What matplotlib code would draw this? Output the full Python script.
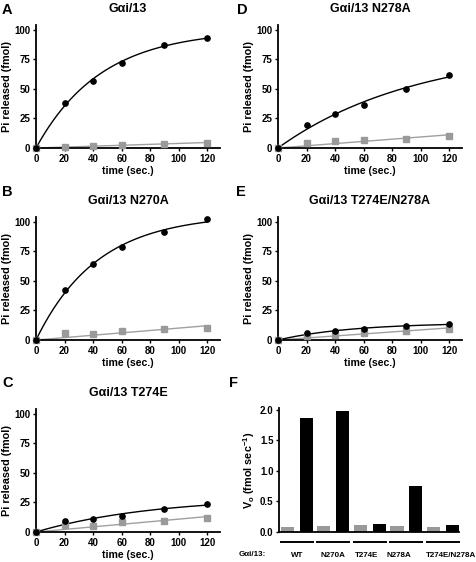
import numpy as np
import matplotlib
matplotlib.use("Agg")
import matplotlib.pyplot as plt

plt.rcParams['font.family'] = ['Liberation Sans', 'DejaVu Sans']
plt.rcParams['font.weight'] = 'bold'
plt.rcParams['mathtext.fontset'] = 'custom'
plt.rcParams['mathtext.rm'] = 'Liberation Sans:bold'
plt.rcParams['mathtext.bf'] = 'Liberation Sans:bold'
plt.rcParams['mathtext.default'] = 'bf'

# time points (sec.)
t = [0, 20, 40, 60, 90, 120]

# Pi released (fmol), black = with receptor, gray = basal
wt_black = [0, 38, 57, 72, 87, 93]
wt_gray = [0, 1, 1.5, 2.5, 3.5, 4.5]
n270a_black = [0, 42, 64, 79, 91, 102]
n270a_gray = [0, 5.5, 5, 7.5, 9, 10.5]
t274e_black = [0, 9.5, 11, 13.5, 19.5, 23.5]
t274e_gray = [0, 5.5, 5, 8.5, 9.5, 11.5]
n278a_black = [0, 19.5, 29, 36.5, 50, 61.5]
n278a_gray = [0, 4.5, 5.5, 6.5, 8, 10]
dbl_black = [0, 5.5, 8, 9, 12, 13.5]
dbl_gray = [0, 3, 4, 6, 7.5, 9.5]

# initial velocities (fmol/sec)
mutants = ['WT', 'N270A', 'T274E', 'N278A', 'T274E/N278A']
vo_gray = [0.085, 0.105, 0.11, 0.095, 0.085]
vo_black = [1.87, 1.98, 0.125, 0.75, 0.11]

W, H = 477, 562


def fit_exp(x, y):
    # one-phase association Y = ymax*(1-exp(-k*t)), grid search on k
    x = np.asarray(x, float)
    y = np.asarray(y, float)
    best = None
    for k in np.logspace(-5, -0.5, 3000):
        f = 1 - np.exp(-k * x)
        ymax = (f @ y) / (f @ f)
        err = np.sum((ymax * f - y) ** 2)
        if best is None or err < best[0]:
            best = (err, k, ymax)
    return best[1], best[2]


def fit_line(x, y):
    # straight line through origin
    x = np.asarray(x, float)
    y = np.asarray(y, float)
    return (x @ y) / (x @ x)


def style(ax):
    for s in ['top', 'right']:
        ax.spines[s].set_visible(False)
    for s in ['left', 'bottom']:
        ax.spines[s].set_linewidth(1.3)
    ax.tick_params(labelsize=7, length=2.5, width=1, pad=1.5)
    for lab in ax.get_xticklabels() + ax.get_yticklabels():
        lab.set_fontweight('bold')


def kinetics(ax, black, gray, title):
    tt = np.linspace(0, 120, 200)
    slope = fit_line(t, gray)
    ax.plot(tt, slope * tt, color='#a0a0a0', lw=1.0, clip_on=False, zorder=2)
    ax.plot(t, gray, ls='none', marker='s', color='#9a9a9a', ms=3.8,
            clip_on=False, zorder=3)
    k, ymax = fit_exp(t, black)
    ax.plot(tt, ymax * (1 - np.exp(-k * tt)), color='black', lw=1.0,
            clip_on=False, zorder=2)
    ax.plot(t, black, ls='none', marker='o', color='black', ms=3.8,
            clip_on=False, zorder=4)
    ax.set_xlim(0, 129)
    ax.set_ylim(0, 104)
    ax.set_xticks([0, 20, 40, 60, 80, 100, 120])
    ax.set_yticks([0, 25, 50, 75, 100])
    ax.set_xlabel('time (sec.)', fontsize=7.6, fontweight='bold', labelpad=2)
    ax.set_ylabel('Pi released (fmol)', fontsize=7.8, fontweight='bold',
                  labelpad=2)
    ax.set_title(title, fontsize=9, fontweight='bold', pad=9)
    style(ax)


fig = plt.figure(figsize=(4.77, 5.62), dpi=100)


def add_axes(left, right, bottom, top):
    return fig.add_axes([left / W, 1 - bottom / H, (right - left) / W,
                         (bottom - top) / H])


axA = add_axes(36, 220, 148, 25)
axB = add_axes(36, 220, 340, 217)
axC = add_axes(36, 220, 532, 409)
axD = add_axes(278, 462, 148, 25)
axE = add_axes(278, 462, 340, 217)
axF = add_axes(279, 459, 532, 408)

kinetics(axA, wt_black, wt_gray, 'G\u03b1i/13')
kinetics(axB, n270a_black, n270a_gray, 'G\u03b1i/13 N270A')
kinetics(axC, t274e_black, t274e_gray, 'G\u03b1i/13 T274E')
kinetics(axD, n278a_black, n278a_gray, 'G\u03b1i/13 N278A')
kinetics(axE, dbl_black, dbl_gray, 'G\u03b1i/13 T274E/N278A')

# panel letters
for letter, px, py in [('A', 2, 10), ('B', 2, 192), ('C', 2, 383),
                       ('D', 237, 10), ('E', 236, 192), ('F', 229, 383)]:
    fig.text(px / W, 1 - py / H, letter, fontsize=10.5, fontweight='bold',
             ha='left', va='center')

# panel F bars
x = np.arange(len(mutants))
axF.bar(x - 0.26, vo_gray, width=0.36, color='#999999')
axF.bar(x + 0.26, vo_black, width=0.36, color='black')
axF.set_xlim(-0.49, 4.44)
axF.set_ylim(0, 2.03)
axF.set_yticks([0.0, 0.5, 1.0, 1.5, 2.0])
axF.set_yticklabels(['0.0', '0.5', '1.0', '1.5', '2.0'])
axF.set_xticks([])
axF.set_ylabel('V$_o$ (fmol sec$^{-1}$)', fontsize=7.8, fontweight='bold',
               labelpad=2)
style(axF)
trans = axF.get_xaxis_transform()
label_shift = [0, 0, -0.1, -0.2, 0.22]
for i, name in enumerate(mutants):
    axF.plot([i - 0.44, i + 0.44], [-0.08, -0.08], color='black', lw=1.4,
             transform=trans, clip_on=False)
    axF.text(i + label_shift[i], -0.19, name, transform=trans, fontsize=5.8,
             fontweight='bold', ha='center', va='center')
fig.text(239 / W, 1 - 555 / H, 'G\u03b1i/13:', fontsize=5.8,
         fontweight='bold', ha='left', va='center')

fig.savefig('out.png', dpi=100)
